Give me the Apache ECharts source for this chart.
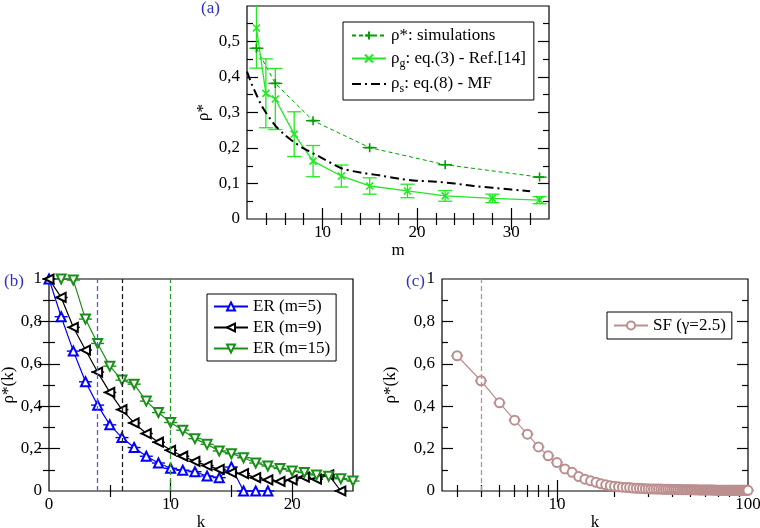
<!DOCTYPE html>
<html><head><meta charset="utf-8">
<script src="https://cdn.jsdelivr.net/npm/echarts@6/dist/echarts.min.js"></script>
<style>html,body{margin:0;padding:0;background:#fff}#c{width:760px;height:528px}</style>
</head><body><div id="c"></div>
<script>
// ---------- Panel (a) data ----------
const aSimM = [3, 5, 9, 15, 23, 33];
const aSimRho = [0.481, 0.382, 0.277, 0.201, 0.153, 0.118];
const aGM = [3, 4, 5, 7, 9, 12, 15, 19, 23, 28, 33];
const aGRho = [0.538, 0.354, 0.338, 0.239, 0.163, 0.121, 0.093, 0.079, 0.065, 0.058, 0.053];
const aGErr = [0.113, 0.097, 0.086, 0.063, 0.044, 0.031, 0.023, 0.019, 0.015, 0.012, 0.010];
const aMFM = [2, 2.5, 3, 3.5, 4, 5, 6, 7, 8, 9, 10, 12, 14, 16, 18, 20, 22, 24, 26, 28, 30, 32];
const aMFRho = [0.415, 0.38, 0.35, 0.322, 0.30, 0.263, 0.237, 0.216, 0.199, 0.185, 0.171, 0.143, 0.131, 0.123, 0.114, 0.108, 0.105, 0.10, 0.093, 0.088, 0.083, 0.078];
const aNames = ['ρ*: simulations', 'ρg: eq.(3) - Ref.[14]', 'ρs: eq.(8) - MF'];
const aXLabels = [10, 20, 30];
const aXMajor = [10, 20, 30];
const aXMinor = [4, 6, 8, 12, 14, 16, 18, 22, 24, 26, 28, 32];
const aYLabels = [0, 0.1, 0.2, 0.3, 0.4, 0.5];
const aYMajor = [0.1, 0.2, 0.3, 0.4, 0.5];
const aYMinor = [0.05, 0.15, 0.25, 0.35, 0.45, 0.55];

// ---------- Panel (b) data ----------
const bK5 = [0, 1, 2, 3, 4, 5, 6, 7, 8, 9, 10, 11, 12, 13, 14, 15, 16, 17, 18];
const bM5 = [1.0, 0.822, 0.66, 0.515, 0.405, 0.312, 0.252, 0.205, 0.164, 0.132, 0.107, 0.098, 0.091, 0.071, 0.063, 0.113, 0, 0, 0];
const bK9 = [0, 1, 2, 3, 4, 5, 6, 7, 8, 9, 10, 11, 12, 13, 14, 15, 16, 17, 18, 19, 20, 21, 22, 23, 24];
const bM9 = [1.0, 0.913, 0.772, 0.665, 0.561, 0.465, 0.384, 0.321, 0.271, 0.23, 0.192, 0.164, 0.14, 0.12, 0.102, 0.087, 0.082, 0.063, 0.052, 0.045, 0.052, 0.065, 0.056, 0.076, 0];
const bK15 = [1, 2, 3, 4, 5, 6, 7, 8, 9, 10, 11, 12, 13, 14, 15, 16, 17, 18, 19, 20, 21, 22, 23, 24, 25];
const bM15 = [1.0, 0.995, 0.811, 0.696, 0.589, 0.523, 0.504, 0.424, 0.37, 0.323, 0.287, 0.247, 0.22, 0.189, 0.176, 0.157, 0.132, 0.118, 0.106, 0.094, 0.087, 0.076, 0.069, 0.058, 0.047];
const bNames = ['ER (m=5)', 'ER (m=9)', 'ER (m=15)'];
const bMarks = [4, 6, 10];
const bXLabels = [0, 10, 20];
const bXMajor = [10, 20];
const bXMinor = [5, 15];
const bcYLabels = [0, 0.2, 0.4, 0.6, 0.8, 1];
const bcYMajor = [0.2, 0.4, 0.6, 0.8];
const bcYMinor = [0.1, 0.3, 0.5, 0.7, 0.9];

// ---------- Panel (c) data ----------
const cK = [];
for (let k = 3; k <= 100; k++) cK.push(k);
const cRho = [
  0.638, 0.520, 0.416, 0.334, 0.268, 0.208, 0.166, 0.134, 0.104, 0.088,
  0.068, 0.056, 0.048, 0.041, 0.034, 0.029, 0.025, 0.022, 0.020, 0.018,
  0.017, 0.016, 0.014, 0.013, 0.013, 0.012, 0.011, 0.011, 0.010, 0.010,
  0.009, 0.009, 0.009, 0.008, 0.008, 0.008, 0.008, 0.007, 0.007, 0.007,
  0.007, 0.007, 0.006, 0.006, 0.006, 0.006, 0.006, 0.006, 0.006, 0.006,
  0.005, 0.006, 0.005, 0.005, 0.005, 0.005, 0.005, 0.005, 0.005, 0.005,
  0.005, 0.005, 0.005, 0.004, 0.005, 0.004, 0.004, 0.004, 0.004, 0.004,
  0.004, 0.004, 0.004, 0.004, 0.004, 0.004, 0.004, 0.004, 0.004, 0.004,
  0.004, 0.003, 0.004, 0.004, 0.003, 0.004, 0.003, 0.004, 0.003, 0.003,
  0.004, 0.003, 0.003, 0.004, 0.003, 0.003, 0.003, 0.003
];
const cName = 'SF (γ=2.5)';
const cMark = [4];
const cXLabels = [10, 100];
const cXMajor = [10];
const cXMinor = [3, 4, 5, 6, 7, 8, 9, 20, 30, 40, 50, 60, 70, 80, 90];

// ---------- helpers ----------
const FONT = 'Liberation Serif, serif';
const comma = v => (Math.round(v * 100) / 100).toString().replace('.', ',');

function axes4(dim, grid, s) {
  const prim = dim === 'x' ? 'bottom' : 'left';
  const sec = dim === 'x' ? 'top' : 'right';
  const base = {
    gridIndex: grid, type: s.type, min: s.min, max: s.max,
    splitLine: { show: false }, axisLine: { show: false },
    ...(s.type === 'log' ? { logBase: 10 } : {})
  };
  const tick = (vals, len) => ({ show: true, inside: true, length: len, customValues: vals, lineStyle: { color: '#000', width: 1.2 } });
  return [
    Object.assign({}, base, {
      position: prim,
      axisTick: tick(s.major, 11),
      axisLabel: { show: true, customValues: s.labels, formatter: s.fmt, fontFamily: FONT, fontSize: 17, color: '#000', margin: dim === 'x' ? 5 : 7 },
      name: s.name, nameLocation: 'middle', nameGap: s.nameGap, nameRotate: dim === 'y' ? 90 : 0,
      nameTextStyle: { fontFamily: FONT, fontSize: 17, color: '#000' }
    }),
    Object.assign({}, base, { position: prim, axisTick: tick(s.minor, 6), axisLabel: { show: false } }),
    Object.assign({}, base, { position: sec, axisTick: tick(s.major, 11), axisLabel: { show: false } }),
    Object.assign({}, base, { position: sec, axisTick: tick(s.minor, 6), axisLabel: { show: false } })
  ];
}

function capSeries(xi, ks, vs, color, w) {
  return {
    type: 'custom', xAxisIndex: xi, yAxisIndex: xi, z: 3, silent: true,
    data: ks.map((k, i) => [k, vs[i]]),
    renderItem: (params, api) => {
      const p = api.coord([api.value(0), api.value(1)]);
      return { type: 'line', shape: { x1: p[0] - w / 2, y1: p[1], x2: p[0] + w / 2, y2: p[1] }, style: { stroke: color, lineWidth: 1.4 } };
    }
  };
}

const GREEN_A = '#00a000';
const GREEN_G = '#22e822';
const BLUE = '#0000ff';
const GREEN_B = '#1a8f1a';
const ROSY = '#bc8f8f';

const xAxis = [].concat(
  axes4('x', 0, { type: 'value', min: 2, max: 34, labels: aXLabels, major: aXMajor, minor: aXMinor, fmt: v => String(v), name: 'm', nameGap: 18 }),
  axes4('x', 1, { type: 'value', min: 0, max: 25, labels: bXLabels, major: bXMajor, minor: bXMinor, fmt: v => String(v), name: 'k', nameGap: 23 }),
  axes4('x', 2, { type: 'log', min: 2.5, max: 100, labels: cXLabels, major: cXMajor, minor: cXMinor, fmt: v => String(Math.round(v)), name: 'k', nameGap: 23 })
);
const yAxis = [].concat(
  axes4('y', 0, { type: 'value', min: 0, max: 0.6, labels: aYLabels, major: aYMajor, minor: aYMinor, fmt: comma, name: 'ρ*', nameGap: 35 }),
  axes4('y', 1, { type: 'value', min: 0, max: 1, labels: bcYLabels, major: bcYMajor, minor: bcYMinor, fmt: comma, name: 'ρ*(k)', nameGap: 32 }),
  axes4('y', 2, { type: 'value', min: 0, max: 1, labels: bcYLabels, major: bcYMajor, minor: bcYMinor, fmt: comma, name: 'ρ*(k)', nameGap: 43 })
);

const PLUS = 'path://M0,5L10,5M5,0L5,10';
const CROSS = 'path://M0,0L10,10M0,10L10,0';

const series = [
  // (a) error bars for rho_g
  {
    type: 'custom', xAxisIndex: 0, yAxisIndex: 0, z: 2, silent: true,
    data: aGM.map((m, i) => [m, aGRho[i] - aGErr[i], aGRho[i] + aGErr[i]]),
    renderItem: (params, api) => {
      const lo = api.coord([api.value(0), api.value(1)]);
      const hi = api.coord([api.value(0), api.value(2)]);
      const cs = params.coordSys;
      const top = cs.y, bot = cs.y + cs.height;
      const st = { stroke: GREEN_G, lineWidth: 1.3 };
      const ch = [{ type: 'line', shape: { x1: lo[0], y1: Math.min(lo[1], bot), x2: hi[0], y2: Math.max(hi[1], top) }, style: st }];
      if (lo[1] <= bot) ch.push({ type: 'line', shape: { x1: lo[0] - 7, y1: lo[1], x2: lo[0] + 7, y2: lo[1] }, style: st });
      if (hi[1] >= top) ch.push({ type: 'line', shape: { x1: hi[0] - 7, y1: hi[1], x2: hi[0] + 7, y2: hi[1] }, style: st });
      return { type: 'group', children: ch };
    }
  },
  capSeries(0, aSimM, aSimRho, GREEN_A, 14),
  {
    type: 'line', name: aNames[0], xAxisIndex: 0, yAxisIndex: 0, z: 4,
    data: aSimM.map((m, i) => [m, aSimRho[i]]),
    symbol: PLUS, symbolSize: 9,
    lineStyle: { color: GREEN_A, width: 1, type: [4, 3] },
    itemStyle: { color: GREEN_A, borderColor: GREEN_A, borderWidth: 1.6 }
  },
  {
    type: 'line', name: aNames[1], xAxisIndex: 0, yAxisIndex: 0, z: 4,
    data: aGM.map((m, i) => [m, aGRho[i]]),
    symbol: CROSS, symbolSize: 7,
    lineStyle: { color: GREEN_G, width: 1.3 },
    itemStyle: { color: GREEN_G, borderColor: GREEN_G, borderWidth: 1.6 }
  },
  {
    type: 'line', name: aNames[2], xAxisIndex: 0, yAxisIndex: 0, z: 4,
    data: aMFM.map((m, i) => [m, aMFRho[i]]),
    smooth: 0.3, showSymbol: false, symbol: 'none',
    lineStyle: { color: '#000', width: 2, type: [9, 4, 2, 4] },
    itemStyle: { color: '#000' }
  },
  // (b)
  capSeries(4, bK5, bM5, BLUE, 13),
  capSeries(4, bK9, bM9, '#000', 13),
  capSeries(4, bK15, bM15, GREEN_B, 13),
  {
    type: 'line', name: bNames[0], xAxisIndex: 4, yAxisIndex: 4, z: 4,
    data: bK5.map((k, i) => [k, bM5[i]]),
    symbol: 'emptyTriangle', symbolSize: 9,
    lineStyle: { color: BLUE, width: 1.2 },
    itemStyle: { color: BLUE, borderColor: BLUE, borderWidth: 1.3 },
    markLine: { silent: true, symbol: ['none', 'none'], label: { show: false }, lineStyle: { color: '#5a5ae0', type: [5, 3], width: 1.3 }, data: [{ xAxis: bMarks[0] }] }
  },
  {
    type: 'line', name: bNames[1], xAxisIndex: 4, yAxisIndex: 4, z: 4,
    data: bK9.map((k, i) => [k, bM9[i]]),
    symbol: 'emptyTriangle', symbolRotate: 90, symbolSize: 9,
    lineStyle: { color: '#000', width: 1.2 },
    itemStyle: { color: '#000', borderColor: '#000', borderWidth: 1.3 },
    markLine: { silent: true, symbol: ['none', 'none'], label: { show: false }, lineStyle: { color: '#222', type: [5, 3], width: 1.3 }, data: [{ xAxis: bMarks[1] }] }
  },
  {
    type: 'line', name: bNames[2], xAxisIndex: 4, yAxisIndex: 4, z: 4,
    data: bK15.map((k, i) => [k, bM15[i]]),
    symbol: 'emptyTriangle', symbolRotate: 180, symbolSize: 9,
    lineStyle: { color: GREEN_B, width: 1.2 },
    itemStyle: { color: GREEN_B, borderColor: GREEN_B, borderWidth: 1.3 },
    markLine: { silent: true, symbol: ['none', 'none'], label: { show: false }, lineStyle: { color: '#2e9a2e', type: [5, 3], width: 1.3 }, data: [{ xAxis: bMarks[2] }] }
  },
  // (c)
  capSeries(8, cK, cRho, ROSY, 12),
  {
    type: 'line', name: cName, xAxisIndex: 8, yAxisIndex: 8, z: 4,
    data: cK.map((k, i) => [k, cRho[i]]),
    symbol: 'emptyCircle', symbolSize: 9,
    lineStyle: { color: ROSY, width: 1.2 },
    itemStyle: { color: ROSY, borderColor: ROSY, borderWidth: 1.4 },
    markLine: { silent: true, symbol: ['none', 'none'], label: { show: false }, lineStyle: { color: ROSY, type: [5, 3], width: 1.3 }, data: [{ xAxis: cMark[0] }] }
  }
];

const legText = {
  fontFamily: FONT, fontSize: 17, color: '#000',
  rich: {
    t: { fontFamily: FONT, fontSize: 17, color: '#000', lineHeight: 22 },
    s: { fontFamily: FONT, fontSize: 12, color: '#000', lineHeight: 12, verticalAlign: 'bottom' }
  }
};
function legFmt(name) {
  if (name.indexOf('ρg') === 0 || name.indexOf('ρs') === 0) {
    return '{t|ρ}{s|' + name.charAt(1) + '}{t|' + name.slice(2) + '}';
  }
  return '{t|' + name + '}';
}

const option = {
  animation: false,
  backgroundColor: '#fff',
  textStyle: { fontFamily: FONT },
  grid: [
    { left: 247, top: 6, width: 302, height: 213, show: true, borderColor: '#000', borderWidth: 1.2, backgroundColor: 'transparent', outerBoundsMode: 'none' },
    { left: 49, top: 279, width: 304, height: 212, show: true, borderColor: '#000', borderWidth: 1.2, backgroundColor: 'transparent', outerBoundsMode: 'none' },
    { left: 442, top: 279, width: 306, height: 212, show: true, borderColor: '#000', borderWidth: 1.2, backgroundColor: 'transparent', outerBoundsMode: 'none' }
  ],
  xAxis: xAxis,
  yAxis: yAxis,
  legend: [
    { data: [aNames[0], aNames[1], { name: aNames[2], itemStyle: { opacity: 0 } }], left: 343, top: 22, orient: 'vertical', borderColor: '#000', borderWidth: 1, padding: [5, 8, 5, 8], itemGap: 6, itemWidth: 34, itemHeight: 10, textStyle: legText, formatter: legFmt, selectedMode: false, backgroundColor: '#fff' },
    { data: bNames, left: 207, top: 294, orient: 'vertical', borderColor: '#000', borderWidth: 1, padding: [4, 6, 4, 6], itemGap: 4, itemWidth: 34, itemHeight: 10, textStyle: legText, formatter: legFmt, selectedMode: false, backgroundColor: '#fff' },
    { data: [cName], left: 607, top: 312, orient: 'vertical', borderColor: '#000', borderWidth: 1, padding: [5, 6, 5, 6], itemGap: 0, itemWidth: 34, itemHeight: 10, textStyle: legText, formatter: legFmt, selectedMode: false, backgroundColor: '#fff' }
  ],
  graphic: [
    { type: 'text', left: 201, top: 0, style: { text: '(a)', font: '17px ' + FONT, fill: '#3030c0' } },
    { type: 'text', left: 4, top: 273, style: { text: '(b)', font: '17px ' + FONT, fill: '#3030c0' } },
    { type: 'text', left: 406, top: 273, style: { text: '(c)', font: '17px ' + FONT, fill: '#3030c0' } }
  ],
  series: series
};

const chart = echarts.init(document.getElementById('c'), null, { renderer: 'canvas' });
chart.setOption(option);
</script></body></html>
